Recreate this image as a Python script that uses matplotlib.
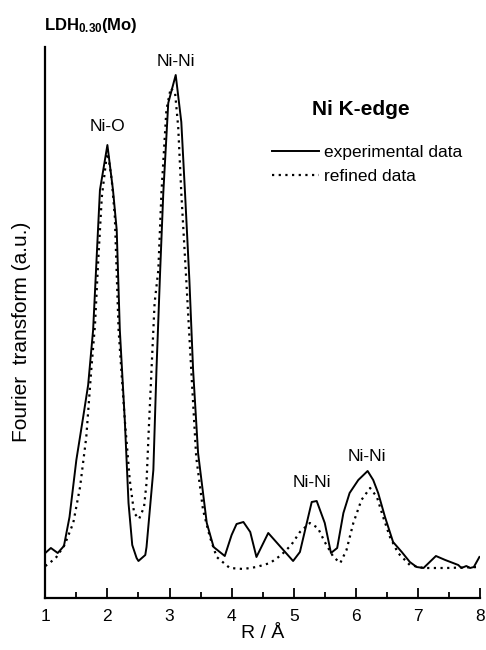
import matplotlib
matplotlib.use('Agg')
import matplotlib.pyplot as plt
from matplotlib.ticker import MultipleLocator

plt.rcParams['font.family'] = ['Liberation Sans', 'DejaVu Sans']
plt.rcParams['mathtext.fontset'] = 'custom'
plt.rcParams['mathtext.rm'] = 'Liberation Sans'
plt.rcParams['mathtext.bf'] = 'Liberation Sans:bold'

# experimental FT magnitude (arbitrary units)
r_exp = [1.00, 1.09, 1.20, 1.30, 1.39, 1.50, 1.61, 1.69, 1.77, 1.88, 2.00, 2.09, 2.15,
         2.20, 2.28, 2.34, 2.40, 2.47, 2.50, 2.61, 2.63, 2.74, 2.79, 2.85, 2.90, 2.98,
         3.10, 3.19, 3.25, 3.32, 3.38, 3.46, 3.60, 3.71, 3.89, 4.00, 4.08, 4.19, 4.30,
         4.40, 4.59, 4.99, 5.10, 5.29, 5.37, 5.50, 5.60, 5.70, 5.80, 5.90, 6.04, 6.19,
         6.28, 6.36, 6.47, 6.60, 6.74, 6.87, 6.98, 7.09, 7.29, 7.44, 7.65, 7.70, 7.78,
         7.84, 7.90, 7.99]
ft_exp = [45, 50, 45, 52, 81, 138, 181, 213, 268, 408, 453, 408, 368,
          268, 178, 95, 53, 40, 37, 43, 51, 128, 228, 328, 405, 495,
          523, 476, 405, 318, 228, 145, 75, 51, 42, 63, 74, 76, 66,
          41, 65, 37, 46, 96, 97, 75, 45, 50, 85, 105, 118, 127,
          118, 105, 81, 56, 46, 36, 31, 30, 42, 38, 33, 30, 32,
          30, 31, 41]

# refined fit
r_fit = [1.00, 1.07, 1.18, 1.31, 1.45, 1.56, 1.66, 1.74, 1.80, 1.85, 1.91, 2.00, 2.07,
         2.12, 2.18, 2.28, 2.36, 2.43, 2.51, 2.59, 2.63, 2.66, 2.71, 2.76, 2.82, 2.87,
         2.95, 3.02, 3.09, 3.14, 3.19, 3.27, 3.35, 3.43, 3.54, 3.65, 3.76, 3.97, 4.19,
         4.40, 4.62, 4.80, 4.96, 5.10, 5.26, 5.39, 5.50, 5.64, 5.75, 5.85, 5.96, 6.09,
         6.23, 6.34, 6.44, 6.55, 6.68, 6.87, 7.09, 7.46, 7.99]
ft_fit = [32, 35, 41, 53, 75, 111, 161, 228, 273, 335, 401, 448, 418,
          381, 268, 178, 118, 85, 79, 91, 115, 160, 228, 295, 328, 405,
          488, 510, 505, 471, 405, 318, 228, 141, 88, 61, 41, 30, 29,
          31, 35, 43, 53, 66, 75, 70, 56, 41, 35, 48, 75, 98,
          110, 101, 81, 61, 45, 33, 30, 30, 31]

peak_labels = ['Ni-O', 'Ni-Ni', 'Ni-Ni', 'Ni-Ni']
peak_r = [2.0, 3.1, 5.30, 6.18]
peak_y = [471, 536, 115, 141]

fig = plt.figure(figsize=(4.86, 6.5), dpi=100)
ax = fig.add_axes([0.0932, 0.08, 0.8945, 0.8477])

ax.plot(r_exp, ft_exp, color='black', lw=1.4, label='experimental data')
ax.plot(r_fit, ft_fit, color='black', lw=1.6, ls=(0, (1, 2)), label='refined data')

for lab, x, y in zip(peak_labels, peak_r, peak_y):
    ax.text(x, y, lab, ha='center', va='center', fontsize=12.5)

ax.set_xlim(1, 8)
ax.set_ylim(0, 551)
ax.xaxis.set_major_locator(MultipleLocator(1))
ax.xaxis.set_minor_locator(MultipleLocator(0.5))
ax.tick_params(axis='x', which='major', direction='in', length=7, width=1.3, labelsize=12.5, pad=8)
ax.tick_params(axis='x', which='minor', direction='in', length=4, width=1.3)
ax.set_yticks([])
for s in ['top', 'right']:
    ax.spines[s].set_visible(False)
for s in ['left', 'bottom']:
    ax.spines[s].set_linewidth(1.6)

ax.set_xlabel('R / Å', fontsize=14, labelpad=1)
ax.set_ylabel('Fourier  transform (a.u.)', fontsize=15)
ax.yaxis.set_label_coords(-0.033, 0.483)

fig.text(0.0905, 0.9615, r'$\mathbf{LDH_{0.30}(Mo)}$', fontsize=12, ha='left', va='center')
ax.text(0.726, 0.887, 'Ni K-edge', transform=ax.transAxes, fontsize=15,
        fontweight='bold', ha='center', va='center')

ax.legend(loc='upper left', bbox_to_anchor=(0.485, 0.85), frameon=False,
          fontsize=12.5, handlelength=2.7, handletextpad=0.3, labelspacing=0.5)

fig.savefig('out.png', dpi=100)
